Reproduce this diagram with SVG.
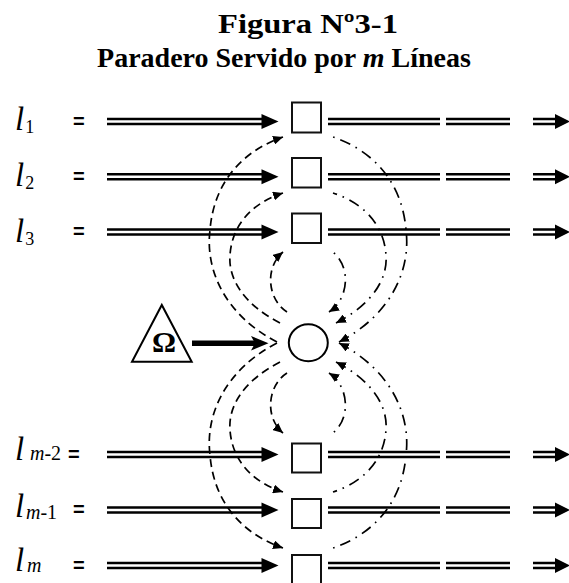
<svg xmlns="http://www.w3.org/2000/svg" xmlns:xlink="http://www.w3.org/1999/xlink" width="569" height="583" viewBox="0 0 569 583">
  <style>
    .title { font-family: "Liberation Serif", "Times New Roman", serif; font-weight: bold; font-size: 28px; fill: #000; }
    .lbl { font-family: "Liberation Serif", "Times New Roman", serif; font-style: italic; font-size: 33px; fill: #000; }
    .sub { font-size: 18px; font-style: normal; }
    .subm { font-family: "Liberation Serif", "Times New Roman", serif; font-style: italic; font-size: 20px; fill: #000; }
    .eq { font-family: "Liberation Sans", Arial, sans-serif; font-weight: bold; font-size: 20px; fill: #000; }
    .dbl { stroke: #000; stroke-width: 2.5; fill: none; }
    .head { fill: #000; }
    .stop { fill: #fff; stroke: #111; stroke-width: 2; }
    .walk { fill: none; stroke: #000; stroke-width: 1.7; stroke-dasharray: 8 5; }
    .alight { fill: none; stroke: #000; stroke-width: 1.7; stroke-dasharray: 11 6 1.6 6; }
  </style>
  <defs>
    <marker id="tip" viewBox="0 0 10 9" refX="10" refY="4.5" markerUnits="userSpaceOnUse" markerWidth="10" markerHeight="9" orient="auto-start-reverse">
      <path d="M0,0 L10,4.5 L0,9 z" fill="#000"/>
    </marker>
    <!-- one bus line: double track with arrowheads, drawn around y = 0 -->
    <g id="flow">
      <path class="dbl" d="M107,-2.5 H263 M107,2.5 H263"/>
      <polygon class="head" points="261.5,-7.5 278.5,0 261.5,7.5"/>
      <path class="dbl" d="M328,-2.5 H440 M328,2.5 H440 M446,-2.5 H510 M446,2.5 H510 M533,-2.5 H556 M533,2.5 H556"/>
      <polygon class="head" points="555,-7.5 570,0 555,7.5"/>
    </g>
    <!-- walking routes from the origin to the upper stops -->
    <g id="walkUp">
      <path class="walk" d="M277,342 C225,315 205,270 210,230 C214,180 245,150 283,137" marker-end="url(#tip)"/>
      <path class="walk" d="M280,323 C245,305 228,280 230,255 C232,225 252,203 283,193" marker-end="url(#tip)"/>
      <path class="walk" d="M287,312 C268,300 264,268 283,252" marker-end="url(#tip)"/>
    </g>
    <!-- transfer routes from the upper stops back to the hub -->
    <g id="alightUp">
      <path class="alight" d="M277,342 C225,315 205,270 210,230 C214,180 245,150 283,137" marker-start="url(#tip)"/>
      <path class="alight" d="M280,323 C245,305 228,280 230,255 C232,225 252,203 283,193" marker-start="url(#tip)"/>
      <path class="alight" d="M287,312 C268,300 264,268 283,252" marker-start="url(#tip)"/>
    </g>
  </defs>

  <rect width="569" height="583" fill="#fff"/>

  <!-- heading -->
  <text class="title" x="218" y="33" font-size="29" textLength="180" lengthAdjust="spacingAndGlyphs">Figura Nº3-1</text>
  <text class="title" x="284" y="67" text-anchor="middle">Paradero Servido por <tspan font-style="italic">m</tspan> Líneas</text>

  <!-- line labels -->
  <g id="labels">
    <text class="lbl" x="15" y="130">l<tspan class="sub" dx="1" dy="3">1</tspan></text>
    <text class="lbl" x="15" y="186">l<tspan class="sub" dx="1" dy="3">2</tspan></text>
    <text class="lbl" x="15" y="242">l<tspan class="sub" dx="1" dy="3">3</tspan></text>
    <text class="lbl" x="15" y="460">l</text>
    <text class="subm" x="30" y="460">m<tspan font-style="normal">-2</tspan></text>
    <text class="lbl" x="15" y="517">l</text>
    <text class="subm" x="26" y="519">m<tspan font-style="normal">-1</tspan></text>
    <text class="lbl" x="15" y="571">l</text>
    <text class="subm" x="27" y="572">m</text>
    <text class="eq" x="73" y="128">=</text>
    <text class="eq" x="73" y="183">=</text>
    <text class="eq" x="73" y="238">=</text>
    <text class="eq" x="68" y="461">=</text>
    <text class="eq" x="73" y="516">=</text>
    <text class="eq" x="73" y="572">=</text>
  </g>

  <!-- connectors -->
  <g id="connectors">
    <use xlink:href="#flow" href="#flow" y="121.5"/>
    <use xlink:href="#flow" href="#flow" y="176.8"/>
    <use xlink:href="#flow" href="#flow" y="232"/>
    <use xlink:href="#flow" href="#flow" y="454.5"/>
    <use xlink:href="#flow" href="#flow" y="510"/>
    <use xlink:href="#flow" href="#flow" y="565.5"/>

    <!-- origin to hub -->
    <path d="M192,343.3 H256" stroke="#000" stroke-width="5.5" fill="none"/>
    <polygon class="head" points="251,336 268.5,343.3 251,350.6 255,343.3"/>

    <!-- walks to stops (upper set and its mirror below) -->
    <use xlink:href="#walkUp" href="#walkUp"/>
    <use xlink:href="#walkUp" href="#walkUp" transform="matrix(1,0,0,-1,0,685)"/>
    <!-- transfers back to hub (right side) -->
    <use xlink:href="#alightUp" href="#alightUp" transform="matrix(-1,0,0,1,616,0)"/>
    <use xlink:href="#alightUp" href="#alightUp" transform="matrix(-1,0,0,-1,616,685)"/>
  </g>

  <!-- nodes -->
  <g id="stop-1"><rect class="stop" x="292" y="102.5" width="29" height="30"/></g>
  <g id="stop-2"><rect class="stop" x="292" y="158" width="29" height="29.5"/></g>
  <g id="stop-3"><rect class="stop" x="292" y="213.5" width="29" height="29.5"/></g>
  <g id="stop-m2"><rect class="stop" x="292" y="443.5" width="29" height="29"/></g>
  <g id="stop-m1"><rect class="stop" x="292" y="499" width="29" height="29"/></g>
  <g id="stop-m"><rect class="stop" x="292" y="555" width="29" height="32"/></g>

  <g id="hub"><ellipse cx="308.3" cy="342.8" rx="19.5" ry="18.5" fill="#fff" stroke="#000" stroke-width="2"/></g>

  <g id="origin">
    <polygon points="132,361.7 191.7,361.7 161.8,305" fill="#fff" stroke="#000" stroke-width="2"/>
    <text x="164" y="352" text-anchor="middle" font-family="Liberation Serif, Times New Roman, serif" font-weight="bold" font-size="30">Ω</text>
  </g>
</svg>
